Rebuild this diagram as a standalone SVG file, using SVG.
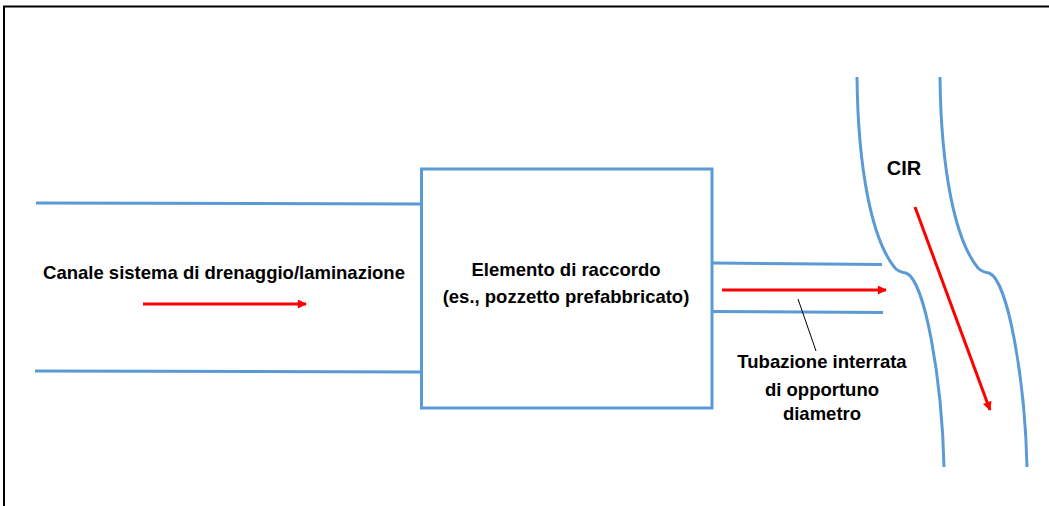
<svg xmlns="http://www.w3.org/2000/svg" width="1049" height="506" viewBox="0 0 1049 506">
<style>
.blue{fill:none;stroke:#5B9BD5;stroke-width:3}
.red{fill:none;stroke:#FF0000;stroke-width:3}
.lbl{font-family:"Liberation Sans",Arial,sans-serif;font-weight:bold;font-size:18.5px;fill:#000}
</style>
<defs>
<marker id="ah" viewBox="0 0 10 10" refX="9" refY="5" markerWidth="10" markerHeight="9" markerUnits="userSpaceOnUse" orient="auto">
<path d="M0,0 L10,5 L0,10 Z" fill="#FF0000"/>
</marker>
</defs>
<rect width="1049" height="506" fill="#fff"/>
<g id="frame">
<path d="M4,506 V6.5 H1049" fill="none" stroke="#000" stroke-width="2"/>
</g>
<g id="canale">
<line class="blue" x1="36" y1="203" x2="421" y2="204"/>
<line class="blue" x1="35" y1="371" x2="421" y2="372"/>
<text class="lbl" x="224" y="279" text-anchor="middle">Canale sistema di drenaggio/laminazione</text>
</g>
<g id="elemento">
<rect class="blue" x="421.5" y="169" width="290.5" height="239"/>
<text class="lbl" x="566" y="276" text-anchor="middle">Elemento di raccordo</text>
<text class="lbl" x="566" y="303" text-anchor="middle">(es., pozzetto prefabbricato)</text>
</g>
<g id="tubazione">
<line class="blue" x1="712" y1="263" x2="882" y2="264.5"/>
<line class="blue" x1="712" y1="311.5" x2="883" y2="312.5"/>
<text class="lbl" x="822" y="368" text-anchor="middle">Tubazione interrata</text>
<text class="lbl" x="822" y="396" text-anchor="middle">di opportuno</text>
<text class="lbl" x="822" y="420" text-anchor="middle">diametro</text>
</g>
<g id="cir">
<path class="blue" d="M857,77 C858,170 872,240 895,268 Q899,272 906,273 C925,280 942,380 944,467"/>
<path class="blue" d="M857,77 C858,170 872,240 895,268 Q899,272 906,273 C925,280 942,380 944,467" transform="translate(83,0)"/>
<text class="lbl" x="904" y="175" text-anchor="middle" style="font-size:20px">CIR</text>
</g>
<g id="connectors">
<line class="red" x1="143" y1="304" x2="306" y2="304" marker-end="url(#ah)"/>
<line class="red" x1="722" y1="290" x2="886" y2="290" marker-end="url(#ah)"/>
<line class="red" x1="915" y1="207" x2="990" y2="410" marker-end="url(#ah)"/>
<line x1="798" y1="299" x2="816" y2="351" stroke="#000" stroke-width="1"/>
</g>
</svg>
